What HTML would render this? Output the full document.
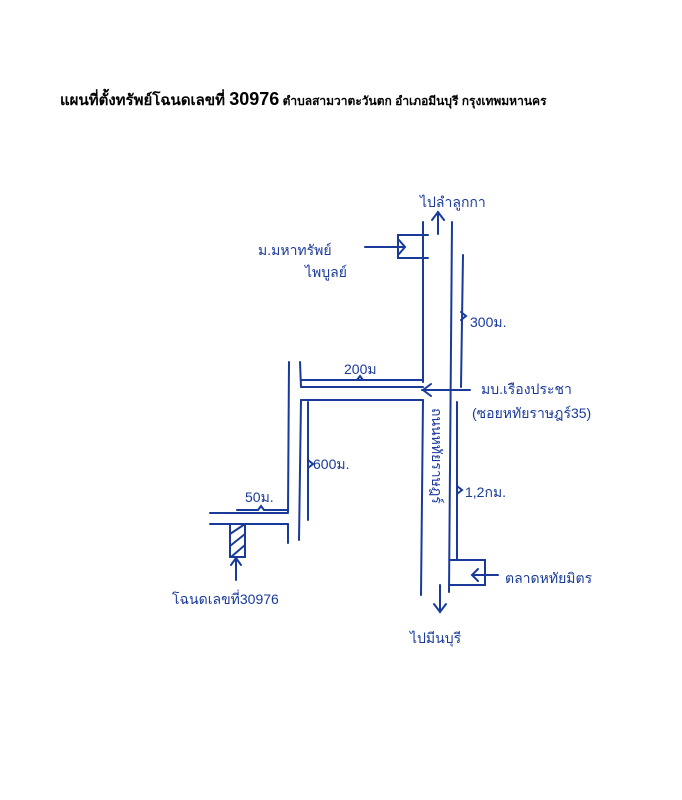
<!DOCTYPE html>
<html><head><meta charset="utf-8"><style>
html,body{margin:0;padding:0;background:#fff;width:682px;height:800px;overflow:hidden}
svg{display:block}
.t{font-family:"Liberation Sans",sans-serif;fill:#1a3a9a;font-size:14px}
</style></head><body>
<svg width="682" height="800" viewBox="0 0 682 800" xmlns="http://www.w3.org/2000/svg">
<text x="60" y="105" font-family="Liberation Sans, sans-serif" fill="#000" font-weight="bold" font-size="15"><tspan>แผนที่ตั้งทรัพย์โฉนดเลขที่ </tspan><tspan font-size="18">30976</tspan><tspan font-size="12"> ตำบลสามวาตะวันตก อำเภอมีนบุรี กรุงเทพมหานคร</tspan></text>
<g stroke="#1a3a9a" stroke-width="2" fill="none" stroke-linecap="round">
<line x1="423" y1="222" x2="423" y2="382"/>
<line x1="423" y1="400" x2="421" y2="595"/>
<line x1="452" y1="222" x2="449" y2="592"/>
<line x1="463" y1="255" x2="461" y2="387"/>
<path d="M461 312 l5 4 l-5 4"/>
<line x1="457" y1="402" x2="457" y2="560"/>
<path d="M457 486 l5 4 l-5 4"/>
<path d="M428 235 H398 V258 H428"/>
<line x1="365" y1="247" x2="405" y2="247"/>
<path d="M399 240 l6 7 l-6 7"/>
<line x1="438" y1="234" x2="438" y2="212"/>
<path d="M432 220 l6 -8 l6 8"/>
<line x1="301" y1="380" x2="423" y2="380"/>
<path d="M357 380 l3 -4 l3 4"/>
<line x1="301" y1="387" x2="423" y2="387"/>
<line x1="301" y1="400" x2="423" y2="400"/>
<line x1="289" y1="362" x2="288" y2="512"/>
<line x1="300" y1="362" x2="301" y2="387"/>
<line x1="301" y1="400" x2="299" y2="540"/>
<line x1="308" y1="402" x2="308" y2="520"/>
<path d="M308 460 l5 4 l-5 4"/>
<line x1="470" y1="390" x2="422" y2="390"/>
<path d="M431 384 l-8 6 l8 6"/>
<line x1="210" y1="513" x2="288" y2="513"/>
<path d="M237 510 H258 l3 -4 l3 4 H288"/>
<line x1="210" y1="524" x2="288" y2="524"/>
<line x1="288" y1="524" x2="288" y2="543"/>
<rect x="230" y="524" width="15" height="33"/>
<path d="M230 534 l15 -10 M230 546 l15 -12 M231 557 l14 -12"/>
<line x1="236" y1="580" x2="236" y2="558"/>
<path d="M231 565 l5 -7 l5 7"/>
<path d="M450 560 H485 V585 H450"/>
<line x1="498" y1="575" x2="472" y2="575"/>
<path d="M478 569 l-6 6 l6 6"/>
<line x1="440" y1="585" x2="440" y2="612"/>
<path d="M434 604 l6 8 l6 -8"/>
</g>
<text class="t" x="420" y="207" font-size="17">ไปลำลูกกา</text>
<text class="t" x="258" y="255">ม.มหาทรัพย์</text>
<text class="t" x="305" y="277">ไพบูลย์</text>
<text class="t" x="470" y="327">300ม.</text>
<text class="t" x="344" y="374">200ม</text>
<text class="t" x="481" y="394">มบ.เรืองประชา</text>
<text class="t" x="472" y="418">(ซอยหทัยราษฎร์35)</text>
<text class="t" x="313" y="469">600ม.</text>
<text class="t" x="465" y="497">1,2กม.</text>
<text class="t" x="245" y="502">50ม.</text>
<text class="t" transform="translate(432,408) rotate(90)">ถนนหทัยราษฎร์</text>
<text class="t" x="505" y="583">ตลาดหทัยมิตร</text>
<text class="t" x="172" y="604">โฉนดเลขที่30976</text>
<text class="t" x="410" y="643" font-size="17">ไปมีนบุรี</text>
</svg>
</body></html>
